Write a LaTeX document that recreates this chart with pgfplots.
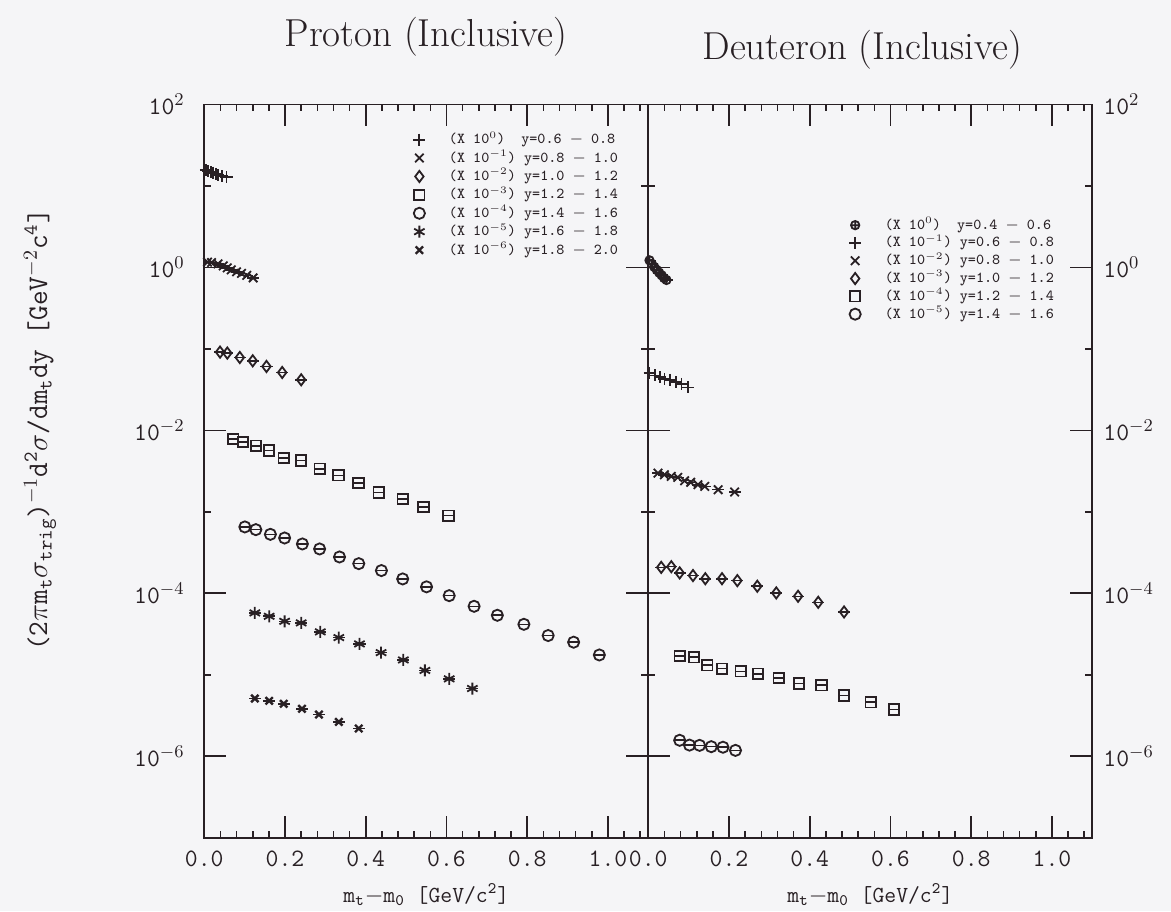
\documentclass[border=0pt]{standalone}
\usepackage{pgfplots}
\pgfplotsset{compat=1.18}
\usetikzlibrary{plotmarks}
\definecolor{ink}{RGB}{40,32,36}
\definecolor{paper}{RGB}{245,245,247}
\newcommand\lgx[1]{\hspace*{11.5pt}#1}

\begin{document}
\begin{tikzpicture}[font=\ttfamily]
\fill[paper] (-102.15pt,-36.65pt) rectangle (483.35pt,418.85pt);

% ---------------- Proton panel ----------------
\begin{axis}[
    at={(0pt,0pt)}, anchor=south west,
    scale only axis, width=222pt, height=366.65pt,
    ymode=log, ymin=1e-7, ymax=1e2,
    xmin=0, xmax=1.1,
    axis line style={ink, line width=0.9pt},
    major tick style={ink, line width=0.8pt},
    minor tick style={ink, line width=0.8pt},
    major tick length=11pt, minor tick length=3.5pt,
    tick align=inside,
    xtick pos=both, ytick pos=both,
    xtick={0,0.2,0.4,0.6,0.8,1.0},
    xticklabels={0.0,0.2,0.4,0.6,0.8,1.0},
    minor xtick={0.04,0.08,0.12,0.16,0.24,0.28,0.32,0.36,0.44,0.48,0.52,0.56,0.64,0.68,0.72,0.76,0.84,0.88,0.92,0.96,1.04,1.08},
    ytick={1e-6,1e-4,1e-2,1,1e2},
    yticklabels={10$^{-6}$,10$^{-4}$,10$^{-2}$,10$^{0}$,10$^{2}$},
    minor ytick={1e-7,1e-5,1e-3,1e-1,1e1},
    ticklabel style={font=\fontsize{12.5}{14}\selectfont\ttfamily, text=ink},
    xticklabel style={yshift=-3pt},
    xlabel={m\textsubscript{t}$-$m\textsubscript{0} [GeV/c\textsuperscript{2}]},
    xlabel style={at={(axis description cs:0.5,0)}, anchor=center, yshift=-28.5pt, font=\fontsize{11.5}{13}\selectfont\ttfamily, text=ink},
    yticklabel pos=left, yticklabel style={xshift=-6.3pt},
    legend cell align=left,
    legend style={draw=none, fill=none, inner sep=0pt, anchor=north west, at={(0.470,0.965)},
      font=\fontsize{7.6}{8.5}\selectfont\ttfamily, text=ink,
      nodes={inner sep=0.3pt, text height=6.3pt, text depth=2.3pt}},
    every axis plot/.append style={only marks, ink, mark options={solid, line width=0.9pt}},
    error bars/x dir=both, error bars/x fixed=0.015, error bars/error mark=none,
    error bars/error bar style={line width=0.8pt},
  ]
\addplot[mark=+, mark size=3pt] coordinates {
(0.004,15.5) (0.010,15.2) (0.016,14.8) (0.022,14.5) (0.028,14.0) (0.034,13.6) (0.043,13.2) (0.055,12.8)};
\addlegendentry{\lgx{(X 10$^{0}$)\ \ y=0.6 $-$ 0.8}}
\addplot[mark=x, mark size=3pt] coordinates {
(0.008,1.16) (0.018,1.145) (0.034,1.104) (0.047,1.043) (0.057,0.986) (0.067,0.932) (0.080,0.881) (0.092,0.844) (0.105,0.798) (0.121,0.743)};
\addlegendentry{\lgx{(X 10$^{-1}$) y=0.8 $-$ 1.0}}
\addplot[mark=diamond, mark size=2.8pt] coordinates {
(0.039,0.0912) (0.057,0.0887) (0.088,0.0783) (0.120,0.0713) (0.154,0.0608) (0.193,0.0513) (0.240,0.0417)};
\addlegendentry{\lgx{(X 10$^{-2}$) y=1.0 $-$ 1.2}}
\addplot[mark=square, mark size=2.6pt] coordinates {
(0.0716,7.82e-3) (0.0963,7.18e-3) (0.1277,6.47e-3) (0.1607,5.67e-3) (0.1968,4.57e-3) (0.2395,4.27e-3) (0.2857,3.38e-3) (0.3326,2.80e-3) (0.3820,2.26e-3) (0.432,1.73e-3) (0.4915,1.44e-3) (0.543,1.15e-3) (0.605,8.96e-4)};
\addlegendentry{\lgx{(X 10$^{-3}$) y=1.2 $-$ 1.4}}
\addplot[mark=o, mark size=2.8pt] coordinates {
(0.1005,6.52e-4) (0.1277,6.04e-4) (0.1637,5.29e-4) (0.199,4.77e-4) (0.243,4.03e-4) (0.2857,3.50e-4) (0.335,2.79e-4) (0.3827,2.31e-4) (0.4388,1.90e-4) (0.4915,1.50e-4) (0.5506,1.20e-4) (0.6067,9.35e-5) (0.6684,6.92e-5) (0.726,5.37e-5) (0.7918,4.16e-5) (0.8519,3.03e-5) (0.915,2.51e-5) (0.9787,1.75e-5)};
\addlegendentry{\lgx{(X 10$^{-4}$) y=1.4 $-$ 1.6}}
\addplot[mark=asterisk, mark size=3pt] coordinates {
(0.1252,5.74e-5) (0.1607,5.22e-5) (0.199,4.53e-5) (0.240,4.33e-5) (0.2874,3.36e-5) (0.3333,2.86e-5) (0.3844,2.39e-5) (0.438,1.87e-5) (0.4931,1.52e-5) (0.5465,1.13e-5) (0.6067,8.91e-6) (0.6642,6.78e-6)};
\addlegendentry{\lgx{(X 10$^{-5}$) y=1.6 $-$ 1.8}}
\addplot[mark=x, mark size=2.6pt, mark options={solid, line width=1.2pt}] coordinates {
(0.1252,5.11e-6) (0.1607,4.79e-6) (0.1968,4.40e-6) (0.242,3.82e-6) (0.284,3.25e-6) (0.3333,2.64e-6) (0.3827,2.19e-6)};
\addlegendentry{\lgx{(X 10$^{-6}$) y=1.8 $-$ 2.0}}
\end{axis}

% ---------------- Deuteron panel ----------------
\begin{axis}[
    at={(222pt,0pt)}, anchor=south west,
    scale only axis, width=222pt, height=366.65pt,
    ymode=log, ymin=1e-7, ymax=1e2,
    xmin=0, xmax=1.1,
    axis line style={ink, line width=0.9pt},
    major tick style={ink, line width=0.8pt},
    minor tick style={ink, line width=0.8pt},
    major tick length=11pt, minor tick length=3.5pt,
    tick align=inside,
    xtick pos=both, ytick pos=both,
    xtick={0,0.2,0.4,0.6,0.8,1.0},
    xticklabels={0.0,0.2,0.4,0.6,0.8,1.0},
    minor xtick={0.04,0.08,0.12,0.16,0.24,0.28,0.32,0.36,0.44,0.48,0.52,0.56,0.64,0.68,0.72,0.76,0.84,0.88,0.92,0.96,1.04,1.08},
    ytick={1e-6,1e-4,1e-2,1,1e2},
    yticklabels={10$^{-6}$,10$^{-4}$,10$^{-2}$,10$^{0}$,10$^{2}$},
    minor ytick={1e-7,1e-5,1e-3,1e-1,1e1},
    ticklabel style={font=\fontsize{12.5}{14}\selectfont\ttfamily, text=ink},
    xticklabel style={yshift=-3pt},
    xlabel={m\textsubscript{t}$-$m\textsubscript{0} [GeV/c\textsuperscript{2}]},
    xlabel style={at={(axis description cs:0.5,0)}, anchor=center, yshift=-28.5pt, font=\fontsize{11.5}{13}\selectfont\ttfamily, text=ink},
    yticklabel pos=right, yticklabel style={xshift=2pt},
    legend cell align=left,
    legend style={draw=none, fill=none, inner sep=0pt, anchor=north west, at={(0.4515,0.848)},
      font=\fontsize{7.6}{8.5}\selectfont\ttfamily, text=ink,
      nodes={inner sep=0.3pt, text height=6.1pt, text depth=2.2pt}},
    every axis plot/.append style={only marks, ink, mark options={solid, line width=0.9pt}},
    error bars/x dir=both, error bars/x fixed=0.015, error bars/error mark=none,
    error bars/error bar style={line width=0.8pt},
  ]
\addplot[mark=oplus, mark size=2.1pt] coordinates {
(0.003,1.22) (0.009,1.10) (0.015,1.01) (0.021,0.93) (0.027,0.86) (0.033,0.80) (0.039,0.74) (0.045,0.70)};
\addlegendentry{\lgx{(X 10$^{0}$)\ \ y=0.4 $-$ 0.6}}
\addplot[mark=+, mark size=3pt] coordinates {
(0.003,0.0504) (0.016,0.0471) (0.028,0.0450) (0.040,0.0429) (0.053,0.0417) (0.069,0.0391) (0.082,0.0372) (0.098,0.0336)};
\addlegendentry{\lgx{(X 10$^{-1}$) y=0.6 $-$ 0.8}}
\addplot[mark=x, mark size=3pt] coordinates {
(0.024,2.99e-3) (0.040,2.85e-3) (0.057,2.72e-3) (0.073,2.64e-3) (0.090,2.41e-3) (0.105,2.30e-3) (0.123,2.15e-3) (0.140,2.05e-3) (0.173,1.87e-3) (0.214,1.75e-3)};
\addlegendentry{\lgx{(X 10$^{-2}$) y=0.8 $-$ 1.0}}
\addplot[mark=diamond, mark size=2.8pt] coordinates {
(0.032,2.08e-4) (0.057,2.12e-4) (0.0777,1.78e-4) (0.1107,1.65e-4) (0.1412,1.51e-4) (0.1826,1.51e-4) (0.2206,1.43e-4) (0.270,1.22e-4) (0.317,1.01e-4) (0.371,9.18e-5) (0.421,7.75e-5) (0.485,5.90e-5)};
\addlegendentry{\lgx{(X 10$^{-3}$) y=1.0 $-$ 1.2}}
\addplot[mark=square, mark size=2.6pt] coordinates {
(0.0777,1.69e-5) (0.113,1.64e-5) (0.146,1.31e-5) (0.183,1.19e-5) (0.229,1.10e-5) (0.272,1.03e-5) (0.323,9.16e-6) (0.373,7.80e-6) (0.429,7.43e-6) (0.485,5.56e-6) (0.551,4.60e-6) (0.609,3.74e-6)};
\addlegendentry{\lgx{(X 10$^{-4}$) y=1.2 $-$ 1.4}}
\addplot[mark=o, mark size=2.8pt] coordinates {
(0.0777,1.57e-6) (0.102,1.37e-6) (0.127,1.36e-6) (0.156,1.31e-6) (0.185,1.29e-6) (0.216,1.18e-6)};
\addlegendentry{\lgx{(X 10$^{-5}$) y=1.4 $-$ 1.6}}
\end{axis}

% titles and y label
\node[font=\fontsize{19.5}{23}\selectfont\rmfamily, text=ink] at (110.85pt,400.35pt) {Proton (Inclusive)};
\node[font=\fontsize{19.5}{23}\selectfont\rmfamily, text=ink] at (329pt,393.85pt) {Deuteron (Inclusive)};
\node[rotate=90, font=\fontsize{14.2}{16}\selectfont\ttfamily, text=ink] at (-82.15pt,203.85pt)
  {(2$\pi$m\textsubscript{t}$\sigma$\textsubscript{trig})$^{-1}$d\textsuperscript{2}$\sigma$/dm\textsubscript{t}dy [GeV$^{-2}$c\textsuperscript{4}]};

\pgfresetboundingbox
\useasboundingbox (-102.15pt,-36.65pt) rectangle (483.35pt,418.85pt);
\end{tikzpicture}
\end{document}
